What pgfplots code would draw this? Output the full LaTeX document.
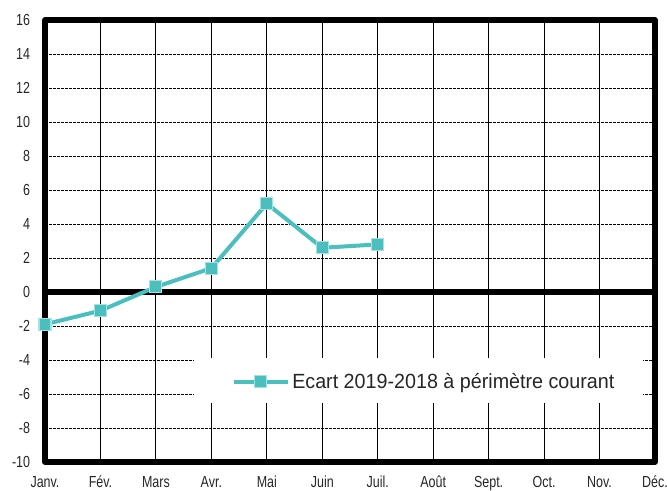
\documentclass[border=0pt]{standalone}
\usepackage{pgfplots}
\pgfplotsset{compat=1.18}
\usepackage{fontspec}
\setmainfont{Liberation Sans}
\newfontfamily\tickfont[FakeStretch=0.78]{Liberation Sans}
\newfontfamily\legfont[FakeStretch=0.96]{Liberation Sans}
\definecolor{tealc}{RGB}{75,190,190}
\definecolor{tealb}{RGB}{165,226,226}
\begin{document}
\begin{tikzpicture}
\begin{axis}[
  name=ax,
  scale only axis,
  width=457.5pt, height=331.5pt,
  xmin=0, xmax=11, ymin=-10, ymax=16,
  xtick={0,1,...,11},
  xticklabels={Janv.,Fév.,Mars,Avr.,Mai,Juin,Juil.,Août,Sept.,Oct.,Nov.,Déc.},
  ytick={-10,-8,...,16},
  yticklabels={-10,-8,-6,-4,-2,0,2,4,6,8,10,12,14,16},
  major tick length=0pt,
  xmajorgrids, ymajorgrids,
  x grid style={black, line width=0.75pt, solid},
  y grid style={black, line width=0.6pt, dash pattern=on 2pt off 1pt},
  axis line style={black, line width=4pt, line join=round},
  yticklabel style={font=\tickfont\fontsize{12}{13}\selectfont, anchor=east, inner sep=0pt, xshift=-11pt, text=black!85},
  xticklabel style={font=\tickfont\fontsize{12}{13}\selectfont, anchor=north, inner sep=0pt, text height=8.6pt, text depth=2pt, yshift=-10.5pt, text=black!85},
  clip=false,
  legend style={at={(axis cs:3.372,-5.29)}, anchor=west, draw=none, fill=none, inner sep=0pt,
    font=\legfont\fontsize{15.4}{16}\selectfont, text=black!85, column sep=0pt},
  legend image code/.code={\draw[mark repeat=2,mark phase=2,#1] plot coordinates {(0pt,0pt) (20pt,0pt) (40pt,0pt)};},
]
\fill[white] (axis cs:2.69,-3.88) rectangle (axis cs:10.78,-6.55);
\draw[black, line width=3.8pt] (axis cs:0,0) -- (axis cs:11,0);
\addplot[color=tealc, line width=3pt, mark=square*, mark size=4.5pt,
  mark options={fill=tealc, draw=tealb, line width=0.8pt, solid}]
  coordinates {(0,-1.9) (1,-1.1) (2,0.3) (3,1.4) (4,5.2) (5,2.6) (6,2.8)};
\addlegendentry{Ecart 2019-2018 à périmètre courant}
\end{axis}
\pgfresetboundingbox
\path[use as bounding box] ([xshift=-33.75pt, yshift=-21pt]ax.south west) rectangle ([xshift=9pt, yshift=15pt]ax.north east);
\end{tikzpicture}
\end{document}
